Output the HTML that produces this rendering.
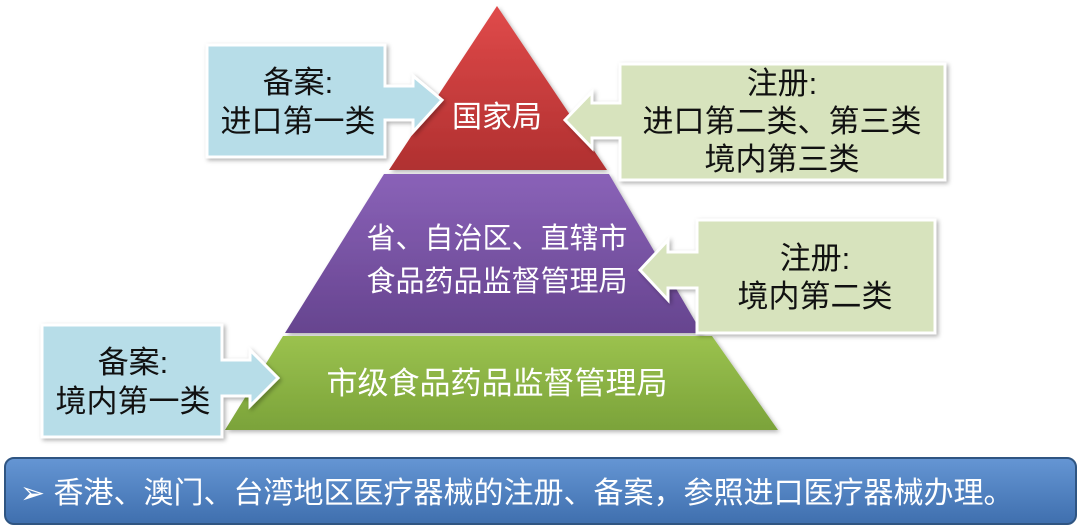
<!DOCTYPE html>
<html><head><meta charset="utf-8"><style>
html,body{margin:0;padding:0;background:#fff;}
svg{display:block;}
text{font-family:"Liberation Sans","Noto Sans CJK SC",sans-serif;}
</style></head><body>
<svg width="1080" height="529" viewBox="0 0 1080 529" xmlns="http://www.w3.org/2000/svg">
<defs>
<linearGradient id="r" x1="0" y1="0" x2="0" y2="1"><stop offset="0" stop-color="#e04a4a"/><stop offset="1" stop-color="#b03030"/></linearGradient>
<linearGradient id="p" x1="0" y1="0" x2="0" y2="1"><stop offset="0" stop-color="#8a62b8"/><stop offset="1" stop-color="#66448f"/></linearGradient>
<linearGradient id="g" x1="0" y1="0" x2="0" y2="1"><stop offset="0" stop-color="#9bc24e"/><stop offset="1" stop-color="#7ba33a"/></linearGradient>
<linearGradient id="b" x1="0" y1="0" x2="0" y2="1"><stop offset="0" stop-color="#6596d4"/><stop offset="1" stop-color="#3f6fae"/></linearGradient>
<filter id="sh" x="-10%" y="-10%" width="130%" height="130%"><feDropShadow dx="2" dy="2" stdDeviation="2" flood-color="#000" flood-opacity="0.3"/></filter>
</defs>
<g filter="url(#sh)">
<polygon points="497,6 607,170 389,170" fill="url(#r)"/>
<polygon points="384,174 609,174 702,333 285,333" fill="url(#p)"/>
<polygon points="283,336 712,336 778,430 225,430" fill="url(#g)"/>
</g>
<g filter="url(#sh)">
<polygon points="207,45 385,45 385,86 413,86 413,76 442,100 413,132 413,120 385,120 385,157 207,157" fill="#b7dde8" stroke="#fff" stroke-width="3"/>
<polygon points="945,64 945,180 620,180 620,138 592,138 592,148 565,120 592,92 592,103 620,103 620,64" fill="#d7e3bd" stroke="#fff" stroke-width="3"/>
<polygon points="935,220 935,333 697,333 697,288 668,288 668,300 640,270 668,240 668,252 697,252 697,220" fill="#d7e3bd" stroke="#fff" stroke-width="3"/>
<polygon points="42,325 222,325 222,360 250,360 250,350 278,378 250,406 250,396 222,396 222,437 42,437" fill="#b7dde8" stroke="#fff" stroke-width="3"/>
</g>
<g fill="#fff" text-anchor="middle">
<text x="497" y="127" font-size="30">国家局</text>
<text x="497" y="248" font-size="29">省、自治区、直辖市</text>
<text x="497" y="291" font-size="29">食品药品监督管理局</text>
<text x="497" y="394" font-size="31">市级食品药品监督管理局</text>
</g>
<g fill="#111" text-anchor="middle" font-size="31">
<text x="298" y="93">备案:</text>
<text x="298" y="132">进口第一类</text>
<text x="782" y="94">注册:</text>
<text x="782" y="132">进口第二类、第三类</text>
<text x="782" y="170">境内第三类</text>
<text x="815" y="269">注册:</text>
<text x="815" y="307">境内第二类</text>
<text x="133" y="373">备案:</text>
<text x="133" y="412">境内第一类</text>
</g>
<rect x="5" y="458" width="1071" height="66" rx="9" fill="url(#b)" stroke="#2f5582" stroke-width="2"/>
<text x="20" y="503" font-size="30" fill="#fff">➢ 香港、澳门、台湾地区医疗器械的注册、备案，参照进口医疗器械办理。</text>
</svg>
</body></html>
